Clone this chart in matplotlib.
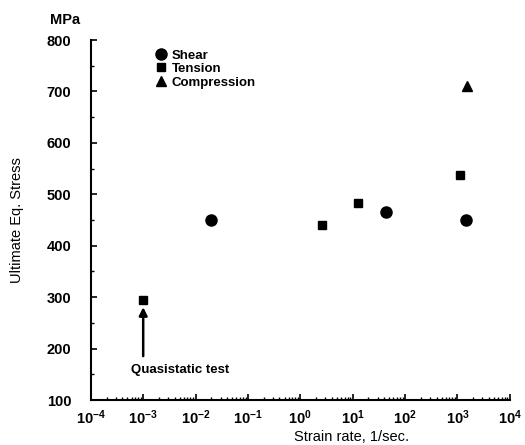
import numpy as np
import matplotlib.pyplot as plt
from matplotlib.ticker import LogLocator, MultipleLocator, FixedLocator

plt.rcParams['font.family'] = ['Liberation Sans', 'DejaVu Sans']
plt.rcParams['font.weight'] = 'bold'

# --- data ---
shear_rate = [0.02, 43, 1450]
shear_stress = [450, 465, 451]
tension_rate = [1e-3, 2.6, 12.6, 1100]
tension_stress = [295, 440, 483, 537]
comp_rate = [1500]
comp_stress = [710]

fig = plt.figure(figsize=(5.25, 4.45), dpi=100)
ax = fig.add_axes([0.173, 0.101, 0.798, 0.809])

ax.plot(shear_rate, shear_stress, 'o', color='black', ms=8, label='Shear')
ax.plot(tension_rate, tension_stress, 's', color='black', ms=6, label='Tension')
ax.plot(comp_rate, comp_stress, '^', color='black', ms=7, label='Compression')

ax.set_xscale('log')
ax.set_xlim(1e-4, 1e4)
ax.set_ylim(100, 800)
ax.xaxis.set_major_locator(FixedLocator([10.0**k for k in range(-4, 5)]))
ax.xaxis.set_minor_locator(LogLocator(base=10, subs=np.arange(2, 10), numticks=20))
ax.yaxis.set_major_locator(MultipleLocator(100))
ax.yaxis.set_minor_locator(MultipleLocator(50))
ax.tick_params(which='both', direction='in', top=False, right=False, labelsize=10.5)
ax.tick_params(which='major', length=4, width=1.2)
ax.tick_params(which='minor', length=2.5, width=1)
ax.tick_params(axis='x', pad=6)
ax.tick_params(axis='y', pad=14)
for s in ['top', 'right']:
    ax.spines[s].set_visible(False)
for s in ['left', 'bottom']:
    ax.spines[s].set_linewidth(1.5)

# arrow for the quasistatic test
ax.annotate('', xy=(1e-3, 286), xytext=(1e-3, 180),
            arrowprops=dict(arrowstyle='-|>', color='black', lw=1.8, mutation_scale=12))
ax.text(5e-3, 158, 'Quasistatic test', ha='center', va='center', fontsize=9.5, fontweight='bold')

leg = ax.legend(loc='upper left', bbox_to_anchor=(0.13, 1.0), frameon=False, fontsize=9.5,
                handletextpad=0.3, labelspacing=0.1, handlelength=1.0, borderaxespad=0.3)

ax.set_ylabel('Ultimate Eq. Stress', fontsize=10.5, fontweight='normal', labelpad=16)
fig.text(0.124, 0.955, 'MPa', fontsize=10.5, fontweight='bold', ha='center', va='center')
fig.text(0.67, 0.018, 'Strain rate, 1/sec.', fontsize=10.5, fontweight='normal', ha='center', va='center')

fig.savefig('out.png', dpi=100)
